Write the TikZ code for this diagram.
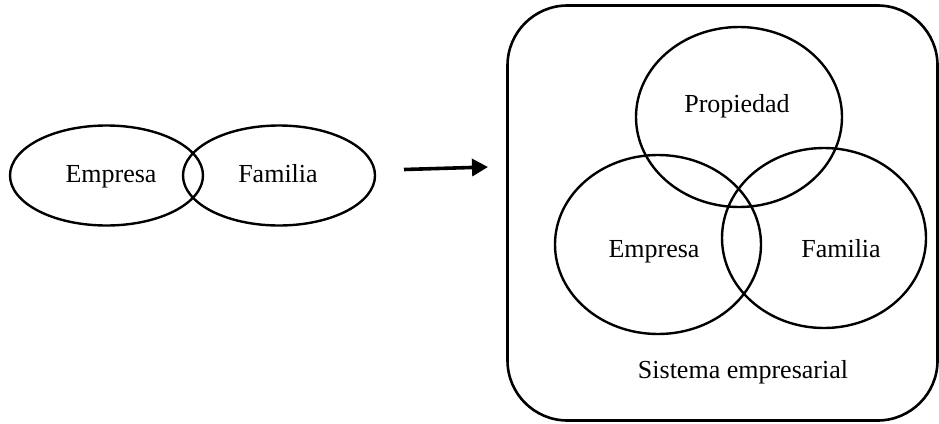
\documentclass[tikz,border=0pt]{standalone}
\usepackage{fontspec}
\setmainfont{Liberation Serif}
\usetikzlibrary{shapes.geometric,arrows.meta}
\begin{document}
\begin{tikzpicture}[x=1pt,y=-1pt,
  oval/.style={draw=black,line width=2.4pt,ellipse,inner sep=0pt},
  lbl/.style={anchor=base,inner sep=0pt,font=\fontsize{26}{30}\selectfont},
  frame/.style={draw=black,line width=2.6pt,rounded corners=60pt}]
\useasboundingbox (0,0) rectangle (939,423);
% left pair
\node[oval,minimum width=193pt,minimum height=100pt] (e1) at (106.5,175.5) {};
\node[oval,minimum width=192pt,minimum height=100pt] (f1) at (279,175.5) {};
\node[lbl] (te1) at (111,182) {Empresa};
\node[lbl] (tf1) at (278,182) {Familia};
% arrow
\coordinate (a0) at (404,169.5);
\coordinate (a1) at (488,167);
\draw[line width=3.6pt,-{Triangle[length=16pt,width=17pt]}] (a0) -- (a1);
% system frame
\node[frame,minimum width=430pt,minimum height=415pt,inner sep=0pt] (sys) at (722.5,213) {};
\node[oval,minimum width=206pt,minimum height=180pt] (p) at (739,117) {};
\node[oval,minimum width=206pt,minimum height=179pt] (e2) at (658,244.5) {};
\node[oval,minimum width=204pt,minimum height=180pt] (f2) at (824,238) {};
\node[lbl] (tp) at (737,112) {Propiedad};
\node[lbl] (te2) at (654,257) {Empresa};
\node[lbl] (tf2) at (841,257) {Familia};
\node[lbl] (ts) at (743,378) {Sistema empresarial};
\end{tikzpicture}
\end{document}
